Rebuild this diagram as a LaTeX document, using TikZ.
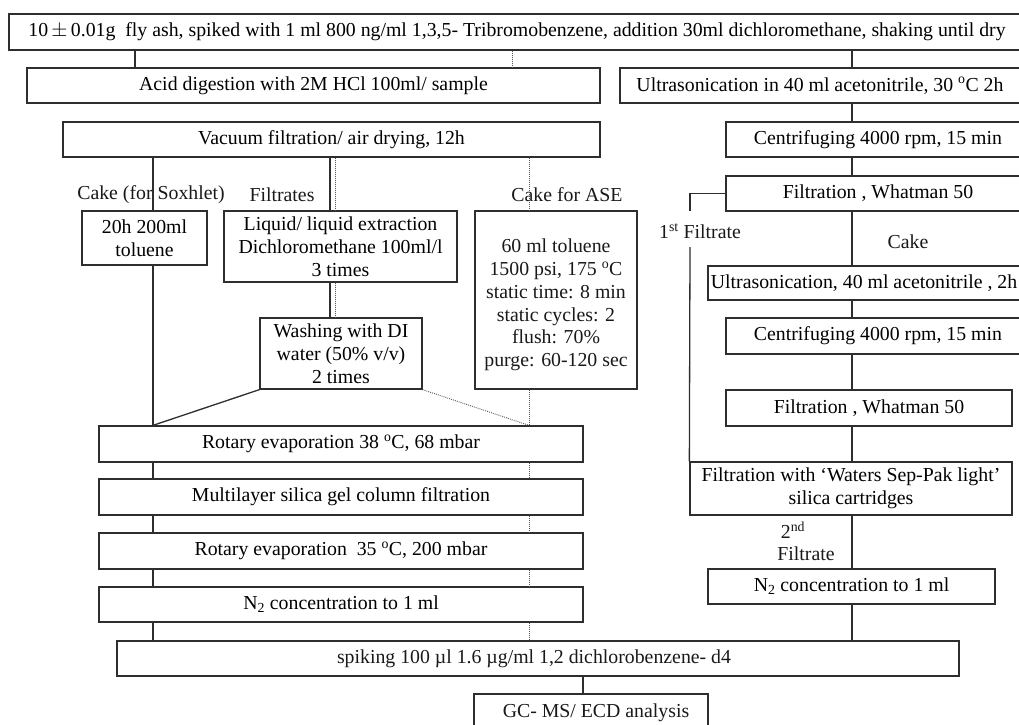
\documentclass[tikz,border=0pt]{standalone}
\usepackage{fontspec}
\setmainfont{Liberation Serif}
\newcommand{\fs}{\fontsize{19.8}{23}\selectfont}
\newcommand{\su}[1]{\textsuperscript{#1}}
\definecolor{lc}{HTML}{2E2E2E}
\definecolor{dc}{HTML}{555555}
\begin{document}
\begin{tikzpicture}[x=1pt,y=-1pt,
  box/.style={draw=lc, line width=1.3pt, inner sep=0pt, align=center, font=\fs},
  lbl/.style={inner sep=0pt, align=center, font=\fs, text=black!90},
  conn/.style={draw=lc, line width=1.3pt},
  dotl/.style={draw=dc, line width=0.9pt, dash pattern=on 0.9pt off 1.1pt}]
\useasboundingbox (0,0) rectangle (1019,724);
\fill[white] (0,0) rectangle (1019,724);
% boxes
\node[box, minimum width=1016, minimum height=36] (top) at (517,32) {10\,$\pm$\,0.01g\ \ fly ash, spiked with 1 ml 800 ng/ml 1,3,5- Tribromobenzene, addition 30ml dichloromethane, shaking until dry};
\node[box, minimum width=573, minimum height=35] (acid) at (313.5,85.5) {Acid digestion with 2M HCl 100ml/ sample};
\node[box, minimum width=400, minimum height=35] (ultra1) at (820,85.5) {Ultrasonication in 40 ml acetonitrile, 30 \su{o}C 2h};
\node[box, minimum width=537, minimum height=35] (vac) at (331.5,139.5) {Vacuum filtration/ air drying, 12h};
\node[box, minimum width=304, minimum height=35] (centr1) at (878,139.5) {Centrifuging 4000 rpm, 15 min};
\node[box, minimum width=304, minimum height=35] (filt1) at (878,193.5) {Filtration , Whatman 50};
\node[lbl] (soxl) at (151,195) {Cake (for Soxhlet)};
\node[lbl] (filtrl) at (282,195) {Filtrates};
\node[lbl] (asel) at (567,195) {Cake for ASE};
\node[box, minimum width=125, minimum height=54] (tol) at (144.5,238) {20h 200ml\\toluene};
\node[box, minimum width=233, minimum height=71] (liq) at (340.5,246.5) {Liquid/ liquid extraction\\Dichloromethane 100ml/l\\3 times};
\node[box, minimum width=162, minimum height=178] (ase) at (556,300) {};
\node[lbl, font=\fontsize{19.8}{22.8}\selectfont] (asetxt) at (556,305) {60 ml toluene\\1500 psi, 175 \su{o}C\\static time: 8 min\\static cycles: 2\\flush: 70\%\\purge: 60-120 sec};
\node[lbl] (firstl) at (700,231) {1\su{st} Filtrate};
\node[lbl] (cakel) at (908,242) {Cake};
\node[box, minimum width=312, minimum height=34] (ultra2) at (864,283) {Ultrasonication, 40 ml acetonitrile , 2h};
\node[box, minimum width=162, minimum height=71] (wash) at (341,353.5) {Washing with DI\\water (50\% v/v)\\2 times};
\node[box, minimum width=304, minimum height=36] (centr2) at (878,336) {Centrifuging 4000 rpm, 15 min};
\node[box, minimum width=286, minimum height=36] (filt2) at (869,408) {Filtration , Whatman 50};
\node[box, minimum width=484, minimum height=36] (rot1) at (341,444) {Rotary evaporation 38 \su{o}C, 68 mbar};
\node[box, minimum width=322, minimum height=53] (waters) at (851,488.5) {Filtration with ‘Waters Sep-Pak light’\\silica cartridges};
\node[box, minimum width=484, minimum height=36] (multi) at (341,497) {Multilayer silica gel column filtration};
\node[box, minimum width=484, minimum height=36] (rot2) at (341,551) {Rotary evaporation\ \ 35 \su{o}C, 200 mbar};
\node[lbl] (secl) at (793,530) {2\su{nd}};
\node[lbl] (secl2) at (806,554) {Filtrate};
\node[box, minimum width=287, minimum height=35] (n2r) at (851.5,586.5) {N\textsubscript{2} concentration to 1 ml};
\node[box, minimum width=484, minimum height=35] (n2l) at (341,604.5) {N\textsubscript{2} concentration to 1 ml};
\node[box, minimum width=842, minimum height=35] (spike) at (538,658.5) {};
\node[lbl] (spiketxt) at (534,658.5) {spiking 100 µl 1.6 µg/ml 1,2 dichlorobenzene- d4};
\node[box, minimum width=234, minimum height=46] (gc) at (591,717) {};
\node[lbl] (gctxt) at (596,713) {GC- MS/ ECD analysis};
% x positions of connectors
\coordinate (xa) at (135,0);
\coordinate (xd) at (512,0);
\coordinate (xr) at (852,0);
\coordinate (xs) at (153,0);
\coordinate (xl) at (330,0);
\coordinate (xld) at (335,0);
\coordinate (xase) at (529,0);
\coordinate (xgc) at (583,0);
\coordinate (f1) at (690,211);
\coordinate (f2) at (690,247);
% connectors
\draw[conn] (top.south -| xa) -- (acid.north -| xa);
\draw[dotl] (top.south -| xd) -- (acid.north -| xd);
\draw[conn] (top.south -| xr) -- (ultra1.north -| xr);
\draw[conn] (ultra1.south -| xr) -- (centr1.north -| xr);
\draw[conn] (centr1.south -| xr) -- (filt1.north -| xr);
\draw[conn] (filt1.south -| xr) -- (ultra2.north -| xr);
\draw[conn] (ultra2.south -| xr) -- (centr2.north -| xr);
\draw[conn] (centr2.south -| xr) -- (filt2.north -| xr);
\draw[conn] (filt2.south -| xr) -- (waters.north -| xr);
\draw[conn] (waters.south -| xr) -- (n2r.north -| xr);
\draw[conn] (n2r.south -| xr) -- (spike.north -| xr);
\draw[conn] (filt1.west) -| (f1);
\draw[conn] (f2) -- (waters.north west);
\draw[conn] (vac.south -| xs) -- (tol.north -| xs);
\draw[conn] (tol.south -| xs) -- (rot1.north -| xs);
\draw[conn] (wash.south west) -- (rot1.north -| xs);
\draw[dotl] (wash.south east) -- (rot1.north -| xase);
\draw[conn] (vac.south -| xl) -- (liq.north -| xl);
\draw[dotl] (vac.south -| xld) -- (liq.north -| xld);
\draw[conn] (liq.south -| xl) -- (wash.north -| xl);
\draw[dotl] (liq.south -| xld) -- (wash.north -| xld);
\draw[dotl] (vac.south -| xase) -- (ase.north -| xase);
\draw[dotl] (ase.south -| xase) -- (rot1.north -| xase);
\foreach \a/\b in {rot1/multi, multi/rot2, rot2/n2l, n2l/spike}{
  \draw[conn] (\a.south -| xs) -- (\b.north -| xs);
  \draw[dotl] (\a.south -| xase) -- (\b.north -| xase);
}
\draw[conn] (spike.south -| xgc) -- (gc.north -| xgc);
\end{tikzpicture}
\end{document}
